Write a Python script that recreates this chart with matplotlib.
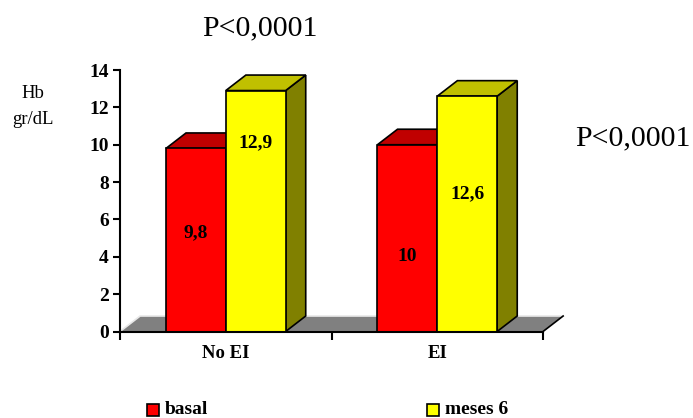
import numpy as np
import matplotlib.pyplot as plt
from matplotlib.patches import Polygon, Rectangle

# data
categories = ['No EI', 'EI']
basal = [9.8, 10.0]
meses6 = [12.9, 12.6]
basal_labels = ['9,8', '10']
meses6_labels = ['12,9', '12,6']
p_text = 'P<0,0001'

plt.rcParams['font.family'] = ['Liberation Serif', 'DejaVu Serif']

fig = plt.figure(figsize=(6.93, 4.18), dpi=100)
ax = fig.add_axes([0.1732, 0.2069, 0.6104, 0.6256])

index = np.arange(len(categories))
bar_width = 0.283
dx, dy = 0.095, 0.83   # depth of the 3d effect, in data units

# gray floor
floor = Polygon([(0, 0), (dx, dy), (2 + dx, dy), (2, 0)], closed=True,
                facecolor='#808080', edgecolor='none', zorder=1, clip_on=False)
ax.add_patch(floor)
ax.plot([0, dx, 2 + dx], [0, dy, dy], color='#e8e8e8', lw=1.2, zorder=1.5,
        clip_on=False, solid_capstyle='butt')
ax.plot([2 + dx, 2], [dy, 0], color='black', lw=1.2, zorder=1.5, clip_on=False)


def bars3d(x, values, front, top, side, z):
    rects = ax.bar(x, values, bar_width, color=front, edgecolor='black',
                   linewidth=1.2, zorder=z + 0.2, clip_on=False)
    for xc, v in zip(x, values):
        x0, x1 = xc - bar_width / 2, xc + bar_width / 2
        ax.add_patch(Polygon([(x1, 0), (x1 + dx, dy), (x1 + dx, v + dy), (x1, v)],
                             closed=True, facecolor=side, edgecolor='black',
                             linewidth=1.2, zorder=z, clip_on=False))
        ax.add_patch(Polygon([(x0, v), (x0 + dx, v + dy), (x1 + dx, v + dy), (x1, v)],
                             closed=True, facecolor=top, edgecolor='black',
                             linewidth=1.2, zorder=z + 0.1, clip_on=False))
    return rects


red_x = index + 0.5 - bar_width / 2
yel_x = index + 0.5 + bar_width / 2
bars3d(red_x, basal, '#ff0000', '#c00000', '#800000', 2)
bars3d(yel_x, meses6, '#ffff00', '#c0c000', '#808000', 3)

# value labels inside the bars
basal_pos = [5.3, 4.0]
meses6_pos = [10.1, 7.4]
for x, lab, yy in zip(red_x, basal_labels, basal_pos):
    ax.text(x, yy, lab, ha='center', va='center', fontsize=14,
            fontweight='bold', zorder=10)
for x, lab, yy in zip(yel_x, meses6_labels, meses6_pos):
    ax.text(x, yy, lab, ha='center', va='center', fontsize=14,
            fontweight='bold', zorder=10)

ax.set_xlim(0, 2)
ax.set_ylim(0, 14)
ax.set_yticks(np.arange(0, 15, 2))
ax.set_xticks([0, 1, 2])
ax.set_xticklabels([])
ax.tick_params(axis='y', direction='out', length=5, width=1.5, pad=3,
               labelsize=14)
ax.tick_params(axis='x', direction='out', length=6, width=1.5)
for lab in ax.get_yticklabels():
    lab.set_fontweight('bold')
for s in ['top', 'right']:
    ax.spines[s].set_visible(False)
for s in ['left', 'bottom']:
    ax.spines[s].set_linewidth(1.5)
    ax.spines[s].set_zorder(5)
ax.patch.set_visible(False)

for i, cat in enumerate(categories):
    ax.text(i + 0.5, -1.2, cat, ha='center', va='center', fontsize=13.5,
            fontweight='bold')

# axis title
fig.text(33 / 693, 1 - 93 / 418, 'Hb', ha='center', va='center', fontsize=13.5)
fig.text(33 / 693, 1 - 119 / 418, 'gr/dL', ha='center', va='center', fontsize=13.5)

# p-values
fig.text(260 / 693, 1 - 28 / 418, p_text, ha='center', va='center', fontsize=21.5)
fig.text(633 / 693, 1 - 138 / 418, p_text, ha='center', va='center', fontsize=21.5)

# legend
for (px, lab, col) in [(147, 'basal', '#ff0000'), (427, 'meses 6', '#ffff00')]:
    fig.add_artist(Rectangle((px / 693, 1 - 416 / 418), 12 / 693, 12 / 418,
                             transform=fig.transFigure, facecolor=col,
                             edgecolor='black', linewidth=1.2))
    fig.text((px + 18) / 693, 1 - 409 / 418, lab, ha='left', va='center',
             fontsize=14, fontweight='bold')

fig.savefig('out.png', dpi=100)
